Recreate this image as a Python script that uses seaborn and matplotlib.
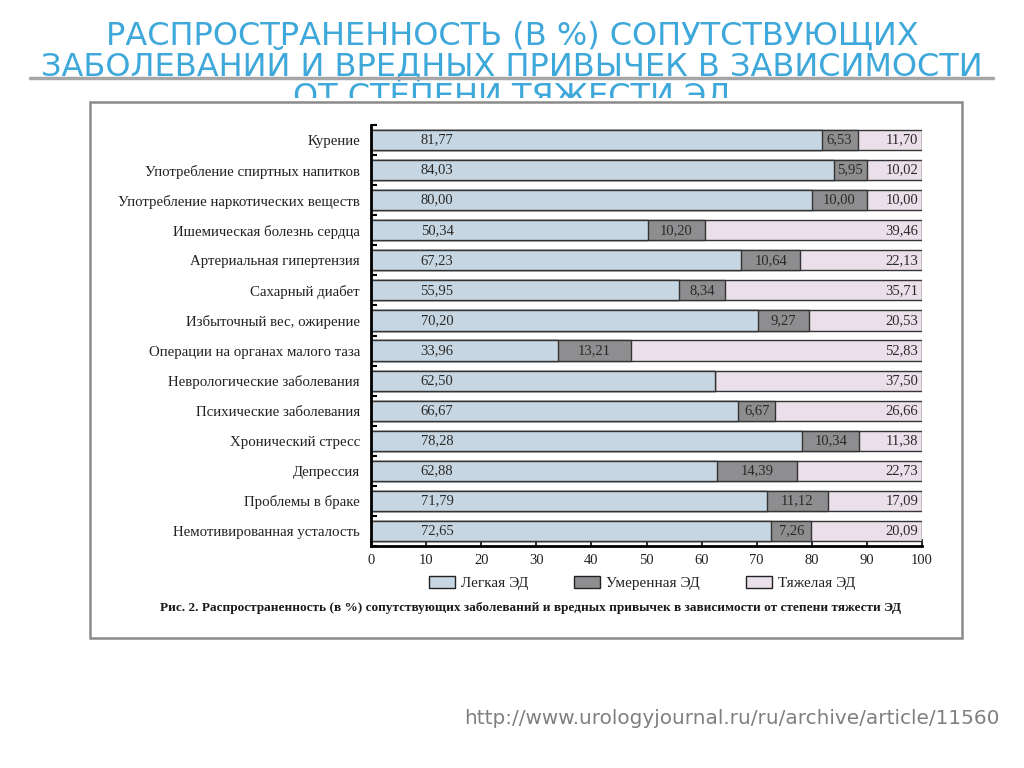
import matplotlib
matplotlib.use("Agg")
import matplotlib.pyplot as plt
import matplotlib.patches as mpatches
from matplotlib.lines import Line2D
from matplotlib.ticker import MultipleLocator
import seaborn as sns
import pandas as pd
import numpy as np

categories = [
    "Курение",
    "Употребление спиртных напитков",
    "Употребление наркотических веществ",
    "Ишемическая болезнь сердца",
    "Артериальная гипертензия",
    "Сахарный диабет",
    "Избыточный вес, ожирение",
    "Операции на органах малого таза",
    "Неврологические заболевания",
    "Психические заболевания",
    "Хронический стресс",
    "Депрессия",
    "Проблемы в браке",
    "Немотивированная усталость",
]
light = [81.77, 84.03, 80.00, 50.34, 67.23, 55.95, 70.20, 33.96, 62.50, 66.67, 78.28, 62.88, 71.79, 72.65]
moderate = [6.53, 5.95, 10.00, 10.20, 10.64, 8.34, 9.27, 13.21, 0.0, 6.67, 10.34, 14.39, 11.12, 7.26]
severe = [11.70, 10.02, 10.00, 39.46, 22.13, 35.71, 20.53, 52.83, 37.50, 26.66, 11.38, 22.73, 17.09, 20.09]
series_names = ["Легкая ЭД", "Умеренная ЭД", "Тяжелая ЭД"]
x_ticks = [0, 10, 20, 30, 40, 50, 60, 70, 80, 90, 100]

title_lines = ["РАСПРОСТРАНЕННОСТЬ (В %) СОПУТСТВУЮЩИХ",
               "ЗАБОЛЕВАНИЙ И ВРЕДНЫХ ПРИВЫЧЕК В ЗАВИСИМОСТИ",
               "ОТ СТЕПЕНИ ТЯЖЕСТИ ЭД"]
caption = ("Рис. 2. Распространенность (в %) сопутствующих заболеваний "
           "и вредных привычек в зависимости от степени тяжести ЭД")
url = "http://www.urologyjournal.ru/ru/archive/article/11560"

sns.set_theme(style="white")
plt.rcParams["font.family"] = ["Liberation Serif", "DejaVu Serif"]

df = pd.DataFrame({"cat": categories, "light": light, "moderate": moderate, "severe": severe})
df["lm"] = df["light"] + df["moderate"]
df["total"] = df["lm"] + df["severe"]

c_light = "#c6d6e2"
c_mod = "#8e8e90"
c_sev = "#ebdfea"

W, H = 1024, 768
fig = plt.figure(figsize=(W / 100, H / 100), dpi=100)

# slide title (third line partly hidden behind the picture frame)
for line, base in zip(title_lines, [45, 75, 105]):
    fig.text(0.5, 1 - base / H, line, ha="center", va="baseline", color="#3ea8da",
             fontsize=23, family=["DejaVu Sans"], zorder=0)
fig.add_artist(Line2D([30 / W, 993 / W], [1 - 78 / H, 1 - 78 / H],
                      color="#a6a6a6", lw=2.5, zorder=0.5))
# picture frame
fig.add_artist(mpatches.Rectangle((60 / W, 1 - 102 / H), 930 / W, 4 / H,
                                  facecolor="white", edgecolor="none", zorder=0.8))
fig.add_artist(mpatches.Rectangle((90 / W, 1 - 638 / H), 872 / W, 536 / H,
                                  facecolor="white", edgecolor="#8a8a8a", lw=1.8, zorder=1))

ax = fig.add_axes([371 / W, 1 - 546 / H, 551 / W, 421 / H])
ax.set_zorder(2)
ax.patch.set_alpha(0)

bw = 0.67
sns.barplot(data=df, y="cat", x="total", color=c_sev, edgecolor="#333333", linewidth=1.0,
            width=bw, orient="h", ax=ax, saturation=1)
sns.barplot(data=df, y="cat", x="lm", color=c_mod, edgecolor="#333333", linewidth=1.0,
            width=bw, orient="h", ax=ax, saturation=1)
sns.barplot(data=df, y="cat", x="light", color=c_light, edgecolor="#333333", linewidth=1.0,
            width=bw, orient="h", ax=ax, saturation=1)

# bar labels
fs_lab = 10.5
for i in range(len(categories)):
    ax.text(12, i, f"{light[i]:.2f}".replace(".", ","), ha="center", va="center",
            fontsize=fs_lab, color="#2a2a2a")
    if moderate[i] > 0:
        ax.text(light[i] + moderate[i] / 2, i, f"{moderate[i]:.2f}".replace(".", ","),
                ha="center", va="center", fontsize=fs_lab, color="#2a2a2a")
    ax.text(df["total"][i] - 0.7, i, f"{severe[i]:.2f}".replace(".", ","),
            ha="right", va="center", fontsize=fs_lab, color="#2a2a2a")

ax.set_xlim(0, 100)
ax.set_ylim(len(categories) - 0.5, -0.5)
ax.set_xticks(x_ticks)
ax.set_xticklabels([str(t) for t in x_ticks])
ax.set_xlabel("")
ax.set_ylabel("")
ax.yaxis.set_minor_locator(MultipleLocator(1, offset=0.5))
ax.tick_params(axis="x", direction="in", length=5, width=1.2, color="black",
               labelsize=10.5, labelcolor="#222222", pad=6, bottom=True)
ax.tick_params(axis="y", which="major", length=0, labelsize=10.75, labelcolor="#222222", pad=8)
ax.tick_params(axis="y", which="minor", direction="in", length=4, width=1.5, color="black", left=True)
for s in ["top", "right"]:
    ax.spines[s].set_visible(False)
for s in ["left", "bottom"]:
    ax.spines[s].set_color("black")
    ax.spines[s].set_linewidth(2)

handles = [mpatches.Patch(facecolor=c, edgecolor="#222222", lw=1.0) for c in [c_light, c_mod, c_sev]]
fig.legend(handles, series_names, loc="center", bbox_to_anchor=(642 / W, 1 - 583 / H),
           ncol=3, frameon=False, fontsize=11, columnspacing=3.0, handlelength=1.7,
           handleheight=0.85, handletextpad=0.4, labelcolor="#222222")

fig.text(530 / W, 1 - 608 / H, caption, ha="center", va="center", fontsize=9.5,
         fontweight="bold", color="#1a1a1a", zorder=3)

fig.text(1000 / W, 1 - 718 / H, url, ha="right", va="center", fontsize=14.4,
         color="#7f7f7f", family=["DejaVu Sans"])

fig.savefig("out.png", dpi=100)
